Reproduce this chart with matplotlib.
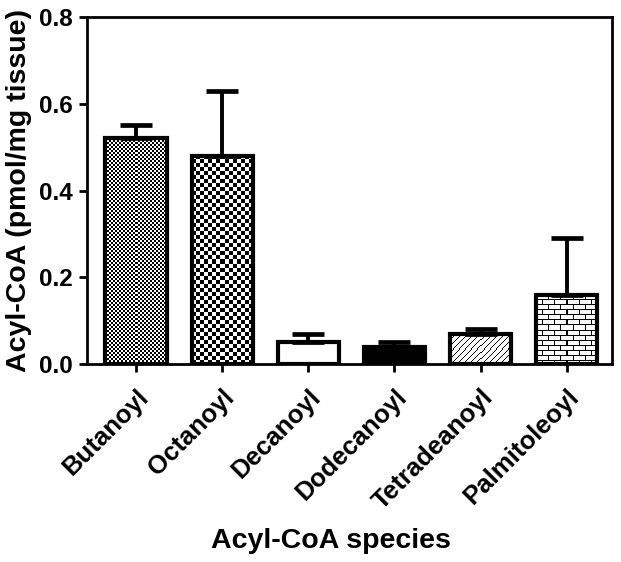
import numpy as np
import matplotlib
matplotlib.use("Agg")
import matplotlib.pyplot as plt

# data
species = ["Butanoyl", "Octanoyl", "Decanoyl", "Dodecanoyl", "Tetradeanoyl", "Palmitoleoyl"]
means = [0.52, 0.48, 0.05, 0.04, 0.07, 0.16]
errs = [0.03, 0.15, 0.02, 0.01, 0.01, 0.13]
patterns = ["checker_fine", "checker", "white", "black", "diag", "brick"]

plt.rcParams["font.family"] = ["Liberation Sans", "DejaVu Sans"]
plt.rcParams["font.weight"] = "bold"

fig = plt.figure(figsize=(6.21, 5.62), dpi=100)
ax = fig.add_axes([0.140, 0.352, 0.846, 0.618])

x = np.arange(len(species))
ax.set_xlim(-0.57, len(species) - 0.47)
ax.set_ylim(0, 0.8)


def make_pattern(kind, h, w):
    r, c = np.indices((h, w))
    if kind == "checker_fine":
        return ((r // 2 + c // 2) % 2).astype(float)
    if kind == "checker":
        return ((r // 4 + c // 4) % 2).astype(float)
    if kind == "diag":
        return (((r + c) % 6) < 1).astype(float)
    if kind == "brick":
        row = r // 5
        img = (r % 5 == 0)
        shift = (row % 2) * 6
        img |= ((c + shift) % 12 == 0)
        return img.astype(float)
    if kind == "black":
        return np.ones((h, w))
    return np.zeros((h, w))


bars = ax.bar(x, means, width=0.71, facecolor="none", edgecolor="black",
              linewidth=3, zorder=3)

# fill each bar with its pattern, sized in pixels so the squares stay crisp
for b, kind in zip(bars, patterns):
    x0, y0 = b.get_x(), 0
    x1, y1 = b.get_x() + b.get_width(), b.get_height()
    p0 = ax.transData.transform((x0, y0))
    p1 = ax.transData.transform((x1, y1))
    w = max(int(round(p1[0] - p0[0])), 1)
    h = max(int(round(p1[1] - p0[1])), 1)
    img = make_pattern(kind, h, w)
    ax.imshow(img, extent=(x0, x1, y0, y1), cmap="Greys", vmin=0, vmax=1,
              interpolation="nearest", aspect="auto", zorder=2)

lower = np.zeros(len(errs))
ax.errorbar(x, means, yerr=[lower, errs], fmt="none", ecolor="black",
            elinewidth=2.8, capsize=11.5, capthick=3.4, zorder=2.5)

ax.set_xlim(-0.57, len(species) - 0.47)
ax.set_ylim(0, 0.8)

ax.set_yticks([0.0, 0.2, 0.4, 0.6, 0.8])
ax.set_yticklabels(["0.0", "0.2", "0.4", "0.6", "0.8"])
ax.set_xticks(x)
ax.set_xticklabels(species, rotation=45, ha="right", rotation_mode="anchor")

ax.tick_params(axis="both", direction="out", length=6, width=2, pad=4)
ax.tick_params(axis="y", labelsize=17.5)
ax.tick_params(axis="x", labelsize=18.5, pad=9)
for s in ax.spines.values():
    s.set_linewidth(2)

ax.set_ylabel("Acyl-CoA (pmol/mg tissue)", fontsize=20.5, fontweight="bold")
ax.set_xlabel("Acyl-CoA species", fontsize=20.5, fontweight="bold")
ax.yaxis.set_label_coords(-0.105, 0.5)
ax.xaxis.set_label_coords(0.465, -0.473)

fig.savefig("out.png", dpi=100)
